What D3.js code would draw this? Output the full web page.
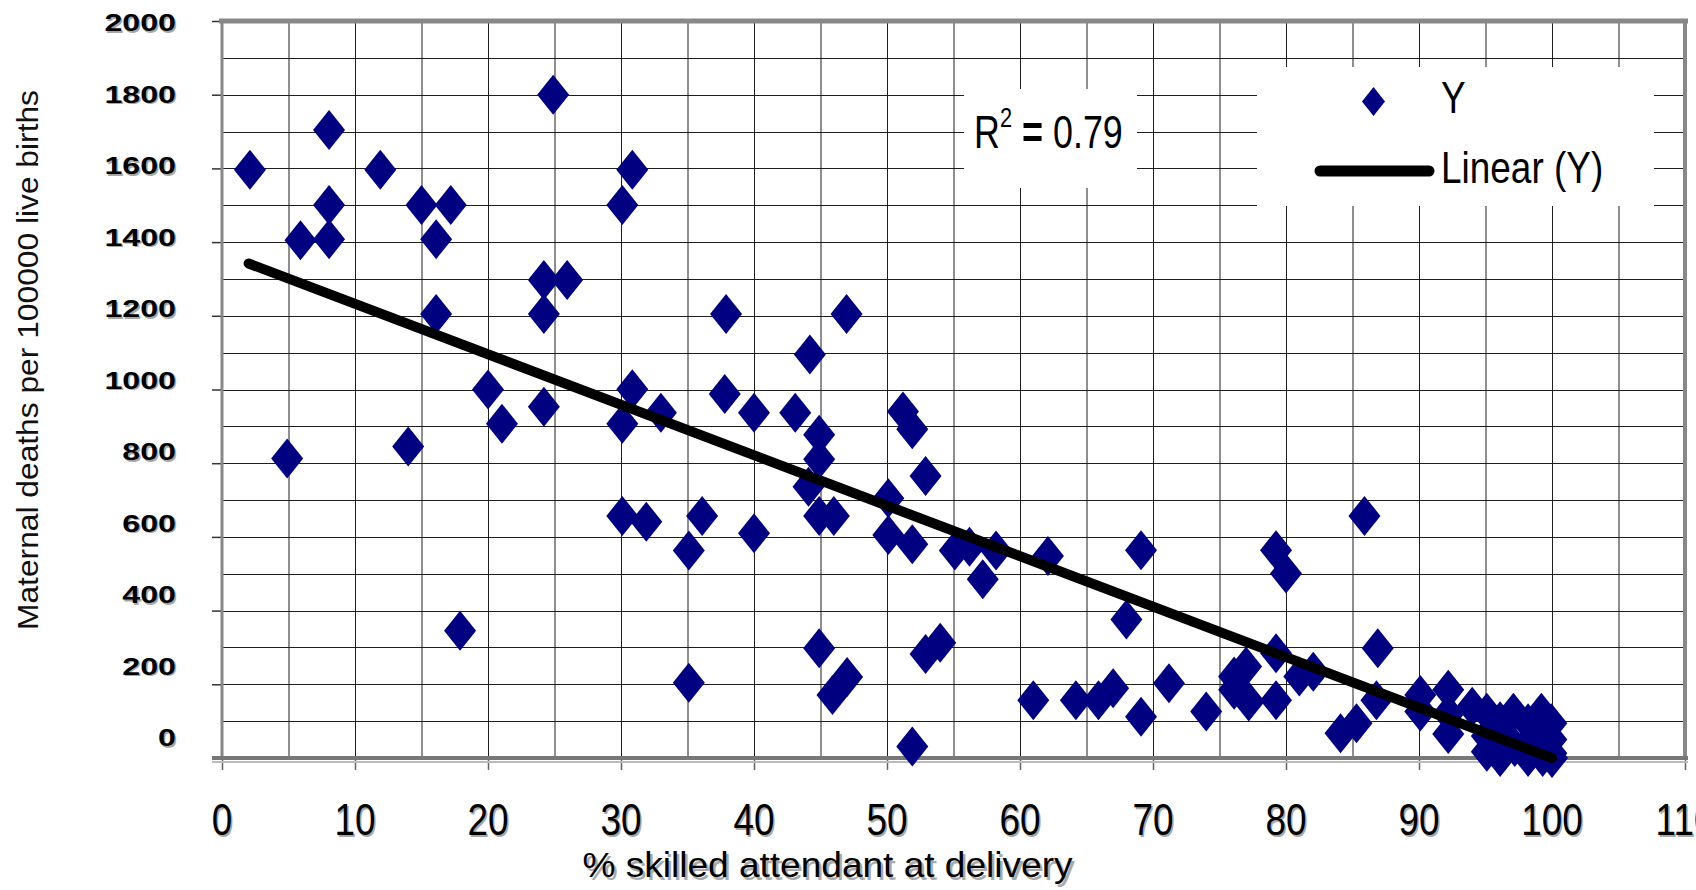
<!DOCTYPE html>
<html>
<head>
<meta charset="utf-8">
<script src="https://cdn.jsdelivr.net/npm/d3@7"></script>
<style>
  body { margin: 0; background: #fff; }
  svg { display: block; font-family: "Liberation Sans", Arial, sans-serif; }
</style>
</head>
<body>
<div id="chart"></div>
<script>
// % skilled attendant at delivery (x) and maternal deaths per 100000 live births (y), one entry per country
const skilledPct = [
  2.1, 4.9, 5.9, 8.05, 8.05, 8.05, 11.9, 14.0, 15.0, 16.1, 16.1, 17.2, 17.9, 20.0, 21.05, 24.2, 24.2, 24.2, 24.9, 25.95,
  30.1, 30.85, 30.1, 30.85, 30.1, 31.9, 33.0, 35.1, 35.1, 36.1, 37.9, 37.8, 40.0, 40.0, 43.1, 44.2, 44.1, 44.9, 44.9, 44.9,
  44.9, 46.0, 45.9, 47.0, 46.96, 50.1, 50.1, 51.2, 51.9, 51.9, 51.9, 52.9, 52.9, 54.0, 55.1, 56.2, 58.2, 57.2, 61.0, 62.1,
  64.2, 65.9, 67.0, 68.0, 69.1, 69.1, 71.2, 74.0, 76.1, 76.1, 77.0, 77.2, 79.25, 80.0, 79.25, 79.25, 81.0, 82.05, 84.1, 85.3,
  85.9, 86.9, 86.8, 90.1, 90.1, 92.2, 92.2, 92.2,
  94.0, 95.1, 95.1, 95.1, 96.1, 96.1, 96.5, 97.1, 97.2, 98.2, 98.2, 98.6, 99.2, 99.3, 99.3, 99.95, 99.95, 99.95, 100
];
const maternalDeaths = [
  1596, 813, 1405, 1704, 1501, 1408, 1596, 845, 1501, 1408, 1205, 1501, 345, 1000, 907, 953, 1297, 1205, 1800, 1297,
  1501, 1596, 907, 1001, 657, 641, 937, 563, 204, 657, 1205, 988, 937, 610, 937, 1095, 736, 877, 811, 657,
  298, 657, 171, 220, 1205, 705, 605, 940, 892, 580, 31, 765, 282, 313, 563, 573, 563, 485, 157, 548,
  157, 157, 189, 376, 564, 112, 203, 126, 221, 185, 248, 153, 564, 501, 284, 157, 221, 234, 67, 94,
  657, 298, 157, 171, 126, 185, 120, 65,
  139, 123, 60, 17, 100, 3, 50, 123, 30, 94, 3, 60, 123, 30, 3, 94, 50, 13, 0
];

// linear trendline end points, as drawn
const trendX = [2.0, 100];
const trendY = [1342, 0];

// axes
const xTicks = [0, 10, 20, 30, 40, 50, 60, 70, 80, 90, 100, 110];
const yTicks = [0, 200, 400, 600, 800, 1000, 1200, 1400, 1600, 1800, 2000];
const xGrid = [5, 10, 15, 20, 25, 30, 35, 40, 45, 50, 55, 60, 65, 70, 75, 80, 85, 90, 95, 100, 105];
const yGrid = [100, 200, 300, 400, 500, 600, 700, 800, 900, 1000, 1100, 1200, 1300, 1400, 1500, 1600, 1700, 1800, 1900];

const xTitle = "% skilled attendant at delivery";
const yTitle = "Maternal deaths per 100000 live births";
const rSquared = "0.79";
const seriesName = "Y";
const trendName = "Linear (Y)";

let data = skilledPct.map((v, i) => ({x: v, y: maternalDeaths[i]}));
let trend = trendX.map((v, i) => ({x: v, y: trendY[i]}));

// set the dimensions of the plot area
let width = 1696, height = 890;
let plot = {left: 222, right: 1685, top: 21, bottom: 758};

// set the ranges
let x = d3.scaleLinear().domain([0, 110]).range([plot.left, plot.right]);
let y = d3.scaleLinear().domain([0, 2000]).range([plot.bottom, plot.top]);
// the value labels sit on a slightly tighter spacing than the ticks
let yLabel = d3.scaleLinear().domain([0, 2000]).range([738, 23]);

let svg = d3.select("#chart").append("svg")
    .attr("width", width)
    .attr("height", height);

svg.append("rect").attr("width", width).attr("height", height).attr("fill", "#fff");

// gridlines
svg.append("g")
  .selectAll("line")
  .data(xGrid)
  .enter().append("line")
    .attr("x1", d => x(d) + 0.5).attr("x2", d => x(d) + 0.5)
    .attr("y1", plot.top).attr("y2", plot.bottom)
    .attr("stroke", "#1e1e1e").attr("stroke-width", 1);

svg.append("g")
  .selectAll("line")
  .data(yGrid)
  .enter().append("line")
    .attr("x1", plot.left).attr("x2", plot.right)
    .attr("y1", d => Math.round(y(d)) + 0.5).attr("y2", d => Math.round(y(d)) + 0.5)
    .attr("stroke", "#1e1e1e").attr("stroke-width", 1);

// white boxes behind the R² label and the legend
svg.append("rect").attr("x", 964).attr("y", 89).attr("width", 173).attr("height", 99).attr("fill", "#fff");
svg.append("rect").attr("x", 1257).attr("y", 67).attr("width", 397).attr("height", 139).attr("fill", "#fff");

// x ticks
let xAxis = svg.append("g")
    .attr("transform", "translate(0," + plot.bottom + ")")
    .call(d3.axisBottom(x).tickValues(xTicks).tickSize(12).tickFormat(""));
xAxis.select(".domain").remove();
xAxis.selectAll("line").attr("stroke", "#666").attr("stroke-width", 1.5);

// y ticks
let yAxis = svg.append("g")
    .attr("transform", "translate(" + plot.left + ",0)")
    .call(d3.axisLeft(y).tickValues(yTicks).tickSize(10).tickFormat(""));
yAxis.select(".domain").remove();
yAxis.selectAll("line").attr("stroke", "#333").attr("stroke-width", 1.5);

// plot border
svg.append("line").attr("x1", 219).attr("x2", 1688).attr("y1", plot.top).attr("y2", plot.top)
  .attr("stroke", "#888").attr("stroke-width", 5);
svg.append("line").attr("x1", plot.left).attr("x2", plot.left).attr("y1", 19).attr("y2", 760)
  .attr("stroke", "#888").attr("stroke-width", 3);
svg.append("line").attr("x1", plot.right).attr("x2", plot.right).attr("y1", 19).attr("y2", 760)
  .attr("stroke", "#888").attr("stroke-width", 4);
svg.append("line").attr("x1", 212).attr("x2", 1688).attr("y1", 762).attr("y2", 762)
  .attr("stroke", "#bbb").attr("stroke-width", 2);
svg.append("line").attr("x1", 212).attr("x2", 1688).attr("y1", plot.bottom).attr("y2", plot.bottom)
  .attr("stroke", "#777").attr("stroke-width", 4);

// tick labels, drawn twice for the grey shadow
const drawLabels = (fill, off) => {
  svg.append("g")
    .selectAll("text")
    .data(xTicks)
    .enter().append("text")
      .attr("transform", d => "translate(" + (x(d) + off) + "," + (835 + off) + ") scale(0.82,1)")
      .attr("text-anchor", "middle")
      .attr("font-size", 45)
      .attr("fill", fill)
      .text(d => d);

  svg.append("g")
    .selectAll("text")
    .data(yTicks)
    .enter().append("text")
      .attr("transform", d => "translate(" + (176 + off) + "," + (yLabel(d) + off) + ") scale(1.4,1)")
      .attr("text-anchor", "end")
      .attr("dy", "0.36em")
      .attr("font-size", 23)
      .attr("font-weight", "bold")
      .attr("fill", fill)
      .text(d => d);
}
drawLabels("#a8a8a8", 1.5);
drawLabels("#000", 0);

// axis titles
svg.append("text")
  .attr("x", 830).attr("y", 880)
  .attr("text-anchor", "middle")
  .attr("font-size", 35)
  .attr("textLength", 490).attr("lengthAdjust", "spacingAndGlyphs")
  .attr("fill", "#aaa")
  .text(xTitle);
svg.append("text")
  .attr("x", 827.5).attr("y", 877)
  .attr("text-anchor", "middle")
  .attr("font-size", 35)
  .attr("textLength", 490).attr("lengthAdjust", "spacingAndGlyphs")
  .attr("fill", "#000")
  .text(xTitle);

svg.append("text")
  .attr("transform", "translate(38,360) rotate(-90)")
  .attr("text-anchor", "middle")
  .attr("font-size", 30)
  .attr("textLength", 540).attr("lengthAdjust", "spacingAndGlyphs")
  .attr("fill", "#111")
  .text(yTitle);

// the scatter points
const diamond = "M0,-20L16,0L0,20L-16,0Z";
svg.append("g")
  .selectAll("path")
  .data(data)
  .enter().append("path")
    .attr("d", diamond)
    .attr("transform", d => "translate(" + x(d.x) + "," + y(d.y) + ")")
    .attr("fill", "#000080");

// linear trendline
let line = d3.line().x(d => x(d.x)).y(d => y(d.y));
svg.append("path")
  .datum(trend)
  .attr("d", line)
  .attr("fill", "none")
  .attr("stroke", "#000")
  .attr("stroke-width", 10)
  .attr("stroke-linecap", "round");

// R² label
let r2 = svg.append("text")
  .attr("transform", "translate(974,148) scale(0.78,1)")
  .attr("font-size", 46)
  .attr("fill", "#000");
r2.append("tspan").text("R");
r2.append("tspan").attr("font-size", 28).attr("dy", -21).text("2");
r2.append("tspan").attr("dy", 21).text(" ");
r2.append("tspan").attr("font-weight", "bold").text("=");
r2.append("tspan").text(" " + rSquared);

// legend
svg.append("path")
  .attr("d", "M0,-14.5L11.5,0L0,14.5L-11.5,0Z")
  .attr("transform", "translate(1373.5,101.5)")
  .attr("fill", "#000080");
svg.append("text")
  .attr("transform", "translate(1441,113) scale(0.84,1)")
  .attr("font-size", 44)
  .text(seriesName);
svg.append("line")
  .attr("x1", 1320).attr("x2", 1429).attr("y1", 171).attr("y2", 171)
  .attr("stroke", "#000").attr("stroke-width", 11).attr("stroke-linecap", "round");
svg.append("text")
  .attr("transform", "translate(1441,183) scale(0.84,1)")
  .attr("font-size", 44)
  .text(trendName);
</script>
</body>
</html>
